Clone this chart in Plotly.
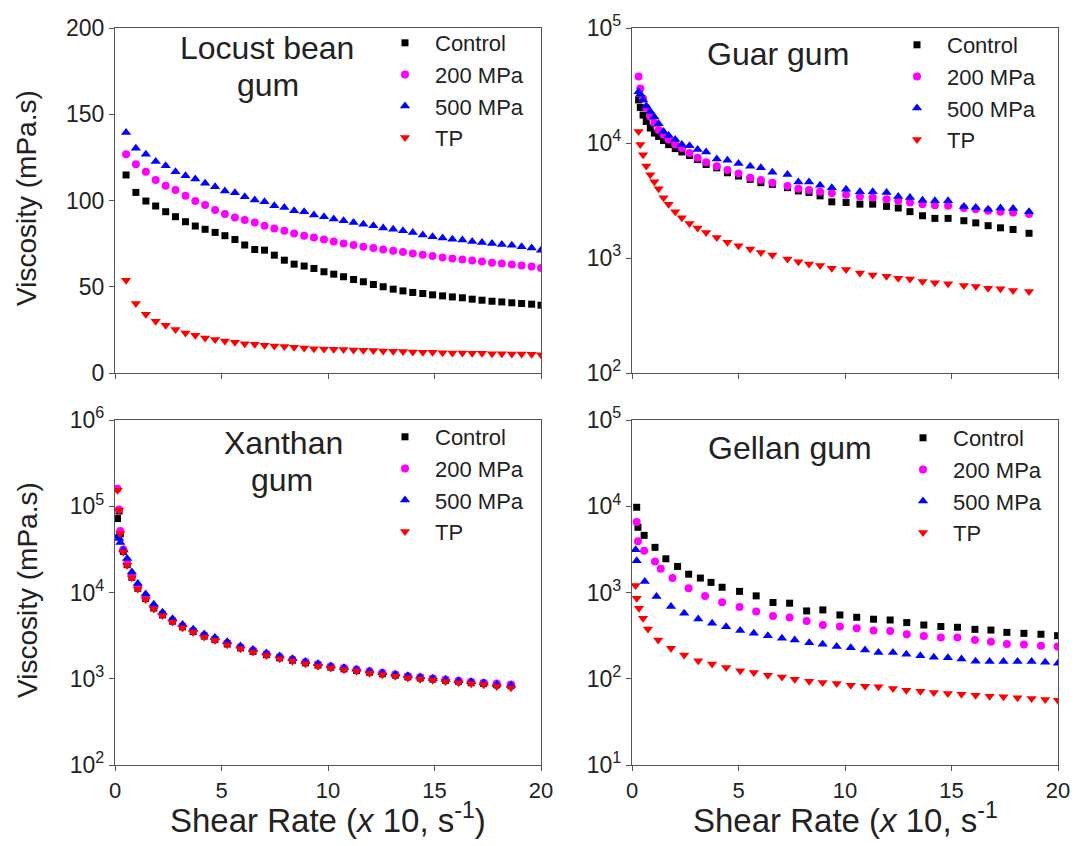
import plotly.graph_objects as go

W, H = 1075, 846
FONT = "Liberation Sans, Arial, sans-serif"

series_names = ["Control", "200 MPa", "500 MPa", "TP"]
colors = ["#000000", "#FF00FF", "#0000FF", "#FF0000"]
symbols = ["square", "circle", "triangle-up", "triangle-down"]
sizes = [7, 8, 9, 9]

# ---------------- Locust bean gum (linear) ----------------
lbg_x = [0.52, 0.98, 1.45, 1.91, 2.38, 2.84, 3.31, 3.77, 4.23, 4.70, 5.16, 5.63, 6.09, 6.56,
         7.02, 7.48, 7.95, 8.41, 8.88, 9.34, 9.81, 10.27, 10.73, 11.20, 11.66, 12.13, 12.59,
         13.06, 13.52, 13.98, 14.45, 14.91, 15.38, 15.84, 16.31, 16.77, 17.23, 17.70, 18.16,
         18.63, 19.09, 19.56, 20.0]
lbg_control = [114.8, 104.7, 99.7, 96.8, 93.5, 90.6, 87.7, 85.2, 83.3, 81.5, 79.6, 77.4, 74.2,
               71.6, 71.2, 68.3, 65.4, 63.1, 62.0, 60.6, 58.7, 57.3, 55.8, 54.2, 52.9, 51.3,
               50.0, 48.6, 47.6, 46.7, 46.1, 45.3, 44.7, 44.1, 43.6, 42.8, 42.2, 41.6, 41.2,
               40.7, 40.3, 39.9, 39.3]
lbg_200 = [126.8, 121.0, 116.7, 111.9, 108.6, 106.1, 102.8, 99.7, 97.4, 94.5, 92.2, 90.2, 88.7,
           87.3, 85.4, 83.8, 82.5, 80.9, 79.6, 78.6, 77.4, 76.3, 75.1, 74.2, 73.2, 72.4, 71.6,
           70.9, 70.1, 69.3, 68.5, 67.8, 67.0, 66.4, 65.8, 65.2, 64.7, 63.9, 63.5, 62.9, 62.3,
           61.8, 60.8]
lbg_500 = [139.4, 130.3, 126.8, 122.6, 120.2, 116.7, 114.4, 112.5, 110.0, 108.0, 105.5, 104.5,
           102.2, 100.3, 99.3, 97.0, 96.0, 94.1, 93.5, 91.6, 90.6, 89.3, 88.3, 87.3, 86.2, 85.4,
           84.0, 83.3, 82.5, 81.5, 80.0, 79.0, 78.2, 77.6, 77.1, 76.3, 75.7, 75.1, 74.5, 74.0,
           73.2, 72.4, 71.2]
lbg_tp = [53.8, 40.3, 34.1, 30.0, 27.7, 25.2, 23.2, 21.9, 20.3, 19.4, 18.6, 17.8, 17.0, 16.7,
          16.1, 15.7, 15.3, 14.9, 14.5, 14.1, 13.9, 13.7, 13.6, 13.4, 13.2, 13.0, 12.8, 12.6,
          12.4, 12.2, 12.0, 12.0, 11.8, 11.6, 11.6, 11.4, 11.4, 11.2, 11.2, 11.0, 11.0, 10.8,
          10.6]

# ---------------- Guar gum (log) ----------------
guar_x = [0.31, 0.39, 0.52, 0.67, 0.86, 1.05, 1.25, 1.48, 1.72, 2.03, 2.34, 2.70, 3.08, 3.48,
          3.98, 4.48, 5.00, 5.55, 6.05, 6.59, 7.30, 7.81, 8.31, 8.83, 9.38, 10.05, 10.70, 11.30,
          11.95, 12.50, 13.05, 13.64, 14.22, 14.84, 15.58, 16.14, 16.72, 17.30, 17.89, 18.64]
guar_control = [23700, 20400, 17500, 15400, 13500, 12200, 11400, 10500, 9680, 8940, 8360, 7780,
                7180, 6500, 6080, 5510, 5160, 4830, 4520, 4370, 4090, 3830, 3710, 3470, 3080,
                3040, 2940, 2940, 2810, 2720, 2530, 2330, 2210, 2210, 2110, 2020, 1910, 1830,
                1770, 1640]
guar_200 = [37800, 29800, 24400, 20400, 17000, 14900, 13000, 11800, 10700, 9680, 9060, 8200,
            7430, 6810, 6290, 5810, 5440, 4990, 4770, 4520, 4230, 4010, 3910, 3760, 3660, 3540,
            3420, 3360, 3250, 3140, 3040, 2940, 2880, 2840, 2720, 2660, 2570, 2530, 2490, 2410]
guar_500 = [27900, 26600, 23700, 21000, 18800, 16800, 14700, 12600, 11600, 10700, 9680, 9480,
            8760, 8360, 7270, 7090, 6640, 6290, 6080, 5580, 5330, 4580, 4580, 4290, 4090, 3960,
            3760, 3760, 3710, 3420, 3360, 3180, 3140, 3140, 2810, 2750, 2660, 2720, 2700, 2530]
guar_tp = [12600, 9700, 7900, 6300, 5300, 4600, 4000, 3340, 2930, 2520, 2240, 2000, 1820, 1670,
           1510, 1370, 1280, 1197, 1119, 1062, 980, 929, 887, 859, 814, 793, 742, 713, 694, 667,
           658, 624, 608, 596, 577, 565, 547, 540, 522, 512]

# ---------------- Xanthan gum (log) ----------------
xan_x = [0.12, 0.19, 0.25, 0.39, 0.57, 0.79, 1.07, 1.44, 1.82, 2.23, 2.70, 3.17, 3.67, 4.19,
         4.69, 5.27, 5.89, 6.48, 7.11, 7.73, 8.33, 8.94, 9.53, 10.13, 10.75, 11.34, 11.95,
         12.55, 13.16, 13.75, 14.33, 14.92, 15.52, 16.13, 16.72, 17.31, 17.92, 18.59]
xan_control = [72000, 88000, 48000, 30000, 21000, 15000, 11200, 8500, 6600, 5500, 4650, 4000,
               3520, 3120, 2840, 2530, 2280, 2080, 1900, 1750, 1640, 1530, 1440, 1360, 1300,
               1250, 1190, 1140, 1100, 1050, 1020, 990, 960, 930, 900, 880, 850, 830]
xan_200 = [160000, 91600, 51800, 31500, 21500, 15200, 11400, 8700, 6800, 5650, 4750, 4080,
           3600, 3180, 2890, 2580, 2320, 2120, 1940, 1790, 1670, 1560, 1470, 1390, 1330, 1280,
           1220, 1170, 1120, 1070, 1040, 1010, 980, 950, 920, 900, 880, 860]
xan_500 = [45000, 42300, 38000, 31000, 24800, 17300, 12700, 9600, 7300, 5900, 4950, 4250,
           3750, 3300, 3000, 2680, 2400, 2180, 1990, 1830, 1710, 1590, 1490, 1410, 1340, 1290,
           1230, 1170, 1130, 1080, 1050, 1010, 980, 950, 920, 890, 860, 840]
xan_tp = [153000, 90000, 48200, 29500, 20700, 14800, 11000, 8280, 6450, 5400, 4550, 3900, 3450,
          3050, 2790, 2480, 2230, 2040, 1860, 1710, 1600, 1490, 1400, 1330, 1270, 1220, 1160,
          1110, 1070, 1020, 990, 960, 930, 900, 875, 852, 814, 787]

# ---------------- Gellan gum (log) ----------------
gel_x_control = [0.22, 0.28, 0.57, 1.08, 1.59, 2.14, 2.66, 3.21, 3.71, 4.23, 5.05, 5.83, 6.62,
                 7.40, 8.20, 8.96, 9.76, 10.55, 11.34, 12.12, 12.90, 13.70, 14.50, 15.28, 16.10,
                 16.85, 17.60, 18.40, 19.20, 19.98]
gel_control = [9730, 5700, 4600, 3340, 2460, 2005, 1630, 1470, 1310, 1150, 1030, 914, 766, 752,
               611, 628, 549, 516, 490, 480, 448, 420, 403, 395, 374, 367, 345, 336, 328, 316]
gel_x_200 = [0.22, 0.28, 0.57, 1.08, 1.35, 1.90, 2.66, 3.43, 4.23, 5.05, 5.83, 6.62, 7.40, 8.20,
             8.96, 9.76, 10.55, 11.34, 12.12, 12.90, 13.70, 14.50, 15.28, 16.10, 16.85, 17.60,
             18.40, 19.20, 19.98]
gel_200 = [6560, 3920, 3050, 2290, 1880, 1470, 1120, 912, 771, 680, 601, 535, 512, 468, 420, 403,
           385, 362, 358, 328, 313, 300, 300, 281, 269, 253, 250, 242, 236]
gel_x_500 = [0.17, 0.22, 0.60, 1.15, 1.83, 2.45, 3.11, 3.76, 4.42, 5.08, 5.72, 6.38, 7.04, 7.64,
             8.32, 8.95, 9.61, 10.27, 10.94, 11.57, 12.25, 12.88, 13.54, 14.17, 14.83, 15.47,
             16.13, 16.79, 17.44, 18.10, 18.76, 19.40, 20.0]
gel_500 = [3130, 2330, 1340, 898, 687, 574, 493, 439, 402, 362, 336, 316, 294, 281, 262, 251, 236,
           229, 215, 202, 201, 192, 185, 177, 175, 169, 160, 158, 158, 158, 158, 155, 151]
gel_x_tp = [0.17, 0.22, 0.33, 0.52, 0.75, 1.23, 1.83, 2.45, 3.11, 3.76, 4.42, 5.08, 5.72, 6.38,
            7.04, 7.64, 8.32, 8.95, 9.61, 10.27, 10.94, 11.57, 12.25, 12.88, 13.54, 14.17, 14.83,
            15.47, 16.13, 16.79, 17.44, 18.10, 18.76, 19.40, 20.0]
gel_tp = [1205, 859, 655, 502, 377, 281, 225, 188, 162, 148, 135, 124, 118, 110, 105, 98.9, 93.7,
          90.5, 88.1, 84.3, 82.1, 80.8, 77.2, 73.7, 71.7, 69.3, 67.5, 66.2, 64.5, 62.8, 61.8,
          60.1, 59.0, 57.5, 56.4]

panels = [
    ("x", "y", "legend", [(lbg_x, lbg_control), (lbg_x, lbg_200), (lbg_x, lbg_500), (lbg_x, lbg_tp)]),
    ("x2", "y2", "legend2", [(guar_x, guar_control), (guar_x, guar_200), (guar_x, guar_500), (guar_x, guar_tp)]),
    ("x3", "y3", "legend3", [(xan_x, xan_control), (xan_x, xan_200), (xan_x, xan_500), (xan_x, xan_tp)]),
    ("x4", "y4", "legend4", [(gel_x_control, gel_control), (gel_x_200, gel_200),
                             (gel_x_500, gel_500), (gel_x_tp, gel_tp)]),
]

fig = go.Figure()
for xa, ya, lg, data in panels:
    for i, (xs, ys) in enumerate(data):
        fig.add_trace(go.Scatter(
            x=xs, y=ys, mode="markers", name=series_names[i],
            marker=dict(symbol=symbols[i], size=sizes[i], color=colors[i], line=dict(width=0)),
            xaxis=xa, yaxis=ya, legend=lg, showlegend=True,
        ))

# plot area (inside margins), in pixels
ML, MR, MT, MB = 115, 17, 28, 81
PW, PH = W - ML - MR, H - MT - MB


def px_x(p):
    return (p - ML) / PW


def px_y(p):
    return (H - MB - p) / PH


LINE = "#555555"
TXT = "#222222"
common_x = dict(range=[0, 20], tickvals=[0, 5, 10, 15, 20], ticks="outside", ticklen=5,
                tickwidth=1.3, tickcolor=LINE, showline=True, linecolor=LINE, linewidth=1.3,
                mirror=True, showgrid=False, zeroline=False, automargin=False,
                tickfont=dict(family=FONT, size=22, color=TXT))
common_y = dict(ticks="outside", ticklen=5, tickwidth=1.3, tickcolor=LINE, showline=True,
                linecolor=LINE, linewidth=1.3, mirror=True, showgrid=False, zeroline=False,
                automargin=False, tickfont=dict(family=FONT, size=23, color=TXT))

dom_left = [px_x(115), px_x(541)]
dom_right = [px_x(632), px_x(1058)]
dom_top = [px_y(373), px_y(28)]
dom_bot = [px_y(765), px_y(420)]


def log_ticks(lo, hi):
    vals = [10 ** k for k in range(lo, hi + 1)]
    text = ["10<sup>%d</sup>" % k for k in range(lo, hi + 1)]
    return vals, text


g_v, g_t = log_ticks(2, 5)
x_v, x_t = log_ticks(2, 6)
ge_v, ge_t = log_ticks(1, 5)

fig.update_layout(
    width=W, height=H, margin=dict(l=ML, r=MR, t=MT, b=MB, autoexpand=False),
    paper_bgcolor="white", plot_bgcolor="white",
    font=dict(family=FONT, color=TXT),
    xaxis=dict(common_x, domain=dom_left, anchor="y", showticklabels=False),
    yaxis=dict(common_y, domain=dom_top, anchor="x", range=[0, 200], tickvals=[0, 50, 100, 150, 200]),
    xaxis2=dict(common_x, domain=dom_right, anchor="y2", showticklabels=False),
    yaxis2=dict(common_y, domain=dom_top, anchor="x2", type="log", range=[2, 5],
                tickvals=g_v, ticktext=g_t),
    xaxis3=dict(common_x, domain=dom_left, anchor="y3"),
    yaxis3=dict(common_y, domain=dom_bot, anchor="x3", type="log", range=[2, 6],
                tickvals=x_v, ticktext=x_t),
    xaxis4=dict(common_x, domain=dom_right, anchor="y4"),
    yaxis4=dict(common_y, domain=dom_bot, anchor="x4", type="log", range=[1, 5],
                tickvals=ge_v, ticktext=ge_t),
)

leg_common = dict(xanchor="left", yanchor="top", bgcolor="rgba(0,0,0,0)", borderwidth=0,
                  font=dict(family=FONT, size=22, color=TXT), itemwidth=50,
                  tracegroupgap=0)
fig.update_layout(
    legend=dict(leg_common, x=px_x(375), y=px_y(22)),
    legend2=dict(leg_common, x=px_x(887), y=px_y(24)),
    legend3=dict(leg_common, x=px_x(375), y=px_y(416)),
    legend4=dict(leg_common, x=px_x(893), y=px_y(417)),
)

ann = []


def add_text(text, x, y, size, angle=0):
    ann.append(dict(text=text, x=px_x(x), y=px_y(y), xref="paper", yref="paper",
                    xanchor="center", yanchor="middle", showarrow=False, textangle=angle,
                    font=dict(family=FONT, size=size, color=TXT)))


add_text("Locust bean", 267, 48, 32)
add_text("gum", 268, 85, 32)
add_text("Guar gum", 778, 54, 32)
add_text("Xanthan", 283, 443, 32)
add_text("gum", 282, 480, 32)
add_text("Gellan gum", 790, 448, 32)
add_text("Viscosity (mPa.s)", 27, 198, 28, -90)
add_text("Viscosity (mPa.s)", 27, 590, 28, -90)
add_text("Shear Rate (<i>x</i> 10, s<sup>-1</sup>)", 328, 818, 33)
add_text("Shear Rate (<i>x</i> 10, s<sup>-1</sup>", 845, 818, 33)
fig.update_layout(annotations=ann)

fig.write_html("out.html", config={"displayModeBar": False},
               post_script="document.body.style.margin='0px';")
